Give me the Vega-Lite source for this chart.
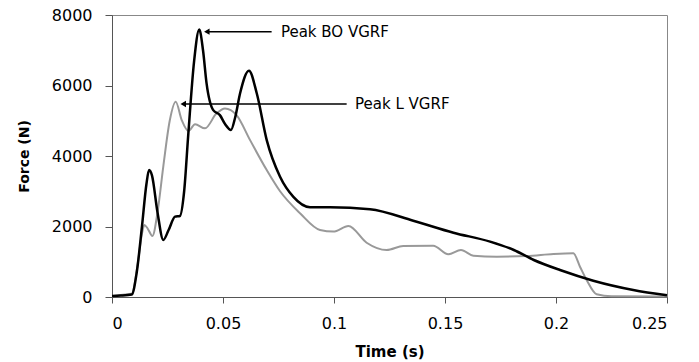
{
  "$schema": "https://vega.github.io/schema/vega-lite/v6.json",
  "autosize": "none",
  "padding": {"left": 112, "top": 15, "right": 32, "bottom": 65},
  "width": 555,
  "height": 282,
  "background": "white",
  "config": {
    "view": {"stroke": "#888", "strokeWidth": 1},
    "font": "DejaVu Sans",
    "axis": {
      "grid": false,
      "domainColor": "#555",
      "tickColor": "#555",
      "tickSize": 6,
      "labelFont": "DejaVu Sans",
      "labelFontSize": 16,
      "labelColor": "black",
      "titleFont": "DejaVu Sans",
      "titleFontWeight": "bold",
      "titleFontSize": 14,
      "titleColor": "black"
    }
  },
  "datasets": {
    "BO": [
      {"t": 0, "f": 30}, {"t": 0.004, "f": 40}, {"t": 0.0089, "f": 70}, {"t": 0.0111, "f": 680},
      {"t": 0.0135, "f": 2000}, {"t": 0.0155, "f": 3200}, {"t": 0.0167, "f": 3600}, {"t": 0.018, "f": 3450},
      {"t": 0.0205, "f": 2400}, {"t": 0.0231, "f": 1620}, {"t": 0.0255, "f": 1900}, {"t": 0.0284, "f": 2280},
      {"t": 0.0306, "f": 2300}, {"t": 0.0325, "f": 3000}, {"t": 0.0344, "f": 4650}, {"t": 0.037, "f": 6700},
      {"t": 0.0393, "f": 7590}, {"t": 0.041, "f": 7000}, {"t": 0.0426, "f": 6060}, {"t": 0.0456, "f": 5300},
      {"t": 0.0486, "f": 5160}, {"t": 0.051, "f": 4900}, {"t": 0.0536, "f": 4740}, {"t": 0.0555, "f": 5100},
      {"t": 0.0577, "f": 5780}, {"t": 0.0617, "f": 6420}, {"t": 0.0652, "f": 5780}, {"t": 0.0697, "f": 4450},
      {"t": 0.0757, "f": 3410}, {"t": 0.0817, "f": 2840}, {"t": 0.0892, "f": 2545}, {"t": 0.0982, "f": 2545},
      {"t": 0.1162, "f": 2490}, {"t": 0.1357, "f": 2165}, {"t": 0.1538, "f": 1825}, {"t": 0.1703, "f": 1570},
      {"t": 0.181, "f": 1333}, {"t": 0.19, "f": 1050}, {"t": 0.2018, "f": 766}, {"t": 0.2168, "f": 463},
      {"t": 0.2348, "f": 200}, {"t": 0.25, "f": 50}
    ],
    "L": [
      {"t": 0, "f": 20}, {"t": 0.004, "f": 60}, {"t": 0.0089, "f": 90}, {"t": 0.0115, "f": 900},
      {"t": 0.0135, "f": 1800}, {"t": 0.0146, "f": 2040}, {"t": 0.016, "f": 1950}, {"t": 0.0182, "f": 1730},
      {"t": 0.0205, "f": 2400}, {"t": 0.0231, "f": 3700}, {"t": 0.026, "f": 5000}, {"t": 0.0287, "f": 5540},
      {"t": 0.0314, "f": 5020}, {"t": 0.0344, "f": 4710}, {"t": 0.0374, "f": 4900}, {"t": 0.0419, "f": 4785},
      {"t": 0.0471, "f": 5210}, {"t": 0.0509, "f": 5350}, {"t": 0.0561, "f": 5160}, {"t": 0.0622, "f": 4450},
      {"t": 0.0697, "f": 3600}, {"t": 0.0757, "f": 3000}, {"t": 0.0847, "f": 2375}, {"t": 0.0937, "f": 1900},
      {"t": 0.0997, "f": 1855}, {"t": 0.1065, "f": 2015}, {"t": 0.1147, "f": 1540}, {"t": 0.1237, "f": 1333},
      {"t": 0.1312, "f": 1447}, {"t": 0.1447, "f": 1455}, {"t": 0.1515, "f": 1210}, {"t": 0.1572, "f": 1333},
      {"t": 0.1628, "f": 1172}, {"t": 0.1733, "f": 1145}, {"t": 0.1868, "f": 1163}, {"t": 0.1988, "f": 1220},
      {"t": 0.2078, "f": 1240}, {"t": 0.2108, "f": 860}, {"t": 0.2138, "f": 482}, {"t": 0.2183, "f": 77},
      {"t": 0.225, "f": 20}, {"t": 0.25, "f": 15}
    ],
    "notes": [
      {"tip": 0.0427, "tail": 0.0719, "f": 7527, "label": "Peak BO VGRF", "lx": 0.0761},
      {"tip": 0.0321, "tail": 0.1057, "f": 5475, "label": "Peak L VGRF", "lx": 0.1095}
    ]
  },
  "encoding": {
    "x": {"field": "t", "type": "quantitative", "scale": {"domain": [0, 0.25], "nice": false},
          "axis": {"title": "Time (s)", "titleFontSize": 15, "values": [0, 0.05, 0.1, 0.15, 0.2, 0.25], "format": "~g", "labelPadding": 12, "titlePadding": 13}},
    "y": {"field": "f", "type": "quantitative", "scale": {"domain": [0, 8000], "nice": false},
          "axis": {"title": "Force (N)", "values": [0, 2000, 4000, 6000, 8000], "format": "d", "tickSize": 7, "labelPadding": 13, "titlePadding": 20}}
  },
  "layer": [
    {"data": {"name": "L"}, "mark": {"type": "line", "color": "#999999", "strokeWidth": 2, "interpolate": "monotone"}},
    {"data": {"name": "BO"}, "mark": {"type": "line", "color": "black", "strokeWidth": 2.5, "interpolate": "monotone"}},
    {"data": {"name": "notes"}, "mark": {"type": "rule", "color": "black", "strokeWidth": 1.5},
     "encoding": {"x": {"field": "tip", "type": "quantitative"}, "x2": {"field": "tail"}}},
    {"data": {"name": "notes"}, "mark": {"type": "point", "shape": "triangle-left", "filled": true, "color": "black", "size": 40, "opacity": 1},
     "encoding": {"x": {"field": "tip", "type": "quantitative"}}},
    {"data": {"name": "notes"}, "mark": {"type": "text", "align": "left", "baseline": "middle", "fontSize": 15, "font": "DejaVu Sans", "color": "black"},
     "encoding": {"x": {"field": "lx", "type": "quantitative"}, "text": {"field": "label"}}}
  ]
}
